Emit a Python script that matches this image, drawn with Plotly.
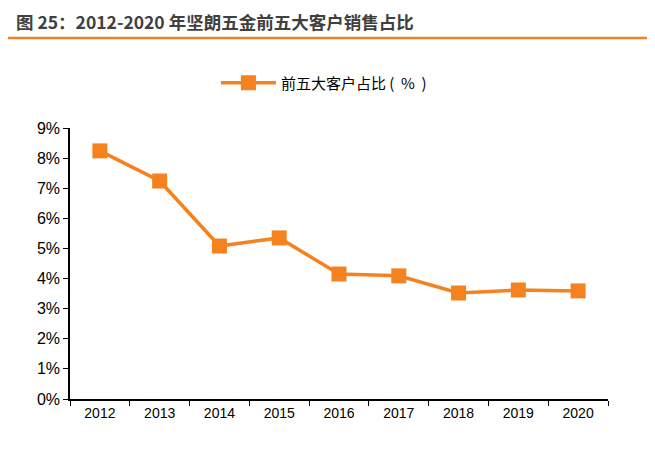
import plotly.graph_objects as go

years = ["2012", "2013", "2014", "2015", "2016", "2017", "2018", "2019", "2020"]
share = [0.0824, 0.0724, 0.0508, 0.0535, 0.0415, 0.0409, 0.0352, 0.0362, 0.0359]
series_name = "前五大客户占比 (  %  )"
title_text = "图 25：2012-2020 年坚朗五金前五大客户销售占比"
ytick_vals = [i / 100 for i in range(0, 10)]
ytick_text = [f"{i}%" for i in range(0, 10)]

orange = "#F5821F"

fig = go.Figure()
fig.add_trace(go.Scatter(
    x=years, y=share, mode="lines+markers", name=series_name,
    line=dict(color=orange, width=3.5),
    marker=dict(symbol="square", size=15, color=orange),
))

W, H = 538, 271
L, T = 62, 120
fig.update_layout(
    width=655, height=455,
    margin=dict(l=L, r=655 - L - W, t=T, b=455 - T - H),
    paper_bgcolor="white", plot_bgcolor="white",
    font=dict(family="Liberation Sans, Arial, sans-serif", size=14, color="#000000"),
    showlegend=True,
    legend=dict(orientation="h", x=0.472, xanchor="center", y=1.166, yanchor="middle",
                itemwidth=55,
                font=dict(family="Noto Sans CJK SC, sans-serif", size=15, color="#000")),
    xaxis=dict(type="category", showgrid=False, showline=True, linecolor="#000", linewidth=1.5,
               ticks="outside", tickson="boundaries", ticklen=5, tickcolor="#000",
               tickfont=dict(size=14), range=[-0.5, 8.5]),
    yaxis=dict(range=[0, 0.09], tickvals=ytick_vals, ticktext=ytick_text, showgrid=False,
               showline=True, linecolor="#000", linewidth=1.5, ticks="outside", ticklen=5,
               tickcolor="#000", tickfont=dict(size=16), zeroline=False),
)

fig.add_annotation(text="<b>" + title_text + "</b>", xref="paper", yref="paper",
                   x=(6 - L) / W, y=(T + H - 13.5) / H, xanchor="left", yanchor="middle",
                   showarrow=False,
                   font=dict(family="Noto Sans CJK SC, sans-serif", size=17.5, color="#404040"))
fig.add_shape(type="line", xref="paper", yref="paper", x0=(-8 - L) / W, x1=(650 - L) / W,
              y0=(T + H - 30) / H, y1=(T + H - 30) / H,
              line=dict(color="#F0832A", width=2.5))

fig.write_html("out.html")
